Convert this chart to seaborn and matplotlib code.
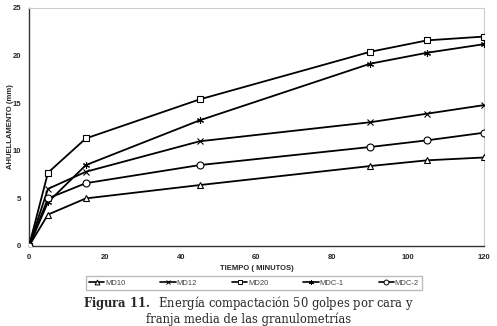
import pandas as pd
import matplotlib
matplotlib.use("Agg")
import matplotlib.pyplot as plt
import seaborn as sns

# tiempo (minutos)
tiempo = [0, 5, 15, 45, 90, 105, 120]
md10 = [0, 3.3, 5.0, 6.4, 8.4, 9.0, 9.3]
md12 = [0, 6.0, 7.8, 11.0, 13.0, 13.9, 14.8]
md20 = [0, 7.7, 11.3, 15.4, 20.4, 21.6, 22.0]
mdc1 = [0, 4.6, 8.5, 13.2, 19.15, 20.3, 21.2]
mdc2 = [0, 5.0, 6.6, 8.5, 10.4, 11.1, 11.9]
series = ["MD10", "MD12", "MD20", "MDC-1", "MDC-2"]
x_ticks = [0, 20, 40, 60, 80, 100, 120]
y_ticks = [0, 5, 10, 15, 20, 25]

df = pd.DataFrame({
    "tiempo": tiempo * 5,
    "ahuellamiento": md10 + md12 + md20 + mdc1 + mdc2,
    "serie": [s for s in series for _ in tiempo],
})

sns.set_theme(style="white")
plt.rcParams["font.family"] = ["Liberation Sans", "DejaVu Sans"]
plt.rcParams["mathtext.fontset"] = "dejavuserif"

fig = plt.figure(figsize=(4.97, 3.26), dpi=100)
ax = fig.add_axes([29 / 497, 80 / 326, 455 / 497, 238 / 326])

markers = {"MD10": "^", "MD12": "x", "MD20": "s", "MDC-1": (6, 2, 0), "MDC-2": "o"}
for s in series:
    sns.lineplot(data=df[df["serie"] == s], x="tiempo", y="ahuellamiento", ax=ax,
                 color="black", marker=markers[s], markersize=5,
                 markerfacecolor="white", markeredgecolor="black",
                 markeredgewidth=0.8, linewidth=1.3, zorder=3)

ax.set_xlim(0, 120)
ax.set_ylim(0, 25)
ax.set_xticks(x_ticks)
ax.set_yticks(y_ticks)
ax.tick_params(labelsize=5.5, length=1.5, pad=4)
for lbl in ax.get_xticklabels() + ax.get_yticklabels():
    lbl.set_fontweight("bold")
ax.set_xlabel("TIEMPO ( MINUTOS)", fontsize=5.5, fontweight="bold", labelpad=3)
ax.set_ylabel("AHUELLAMENTO (mm)", fontsize=5.5, fontweight="bold")
ax.yaxis.set_label_coords(-15 / 455, 0.5)
for side in ["left", "bottom"]:
    ax.spines[side].set_color("#333333")
    ax.spines[side].set_linewidth(1.0)
for side in ["top", "right"]:
    ax.spines[side].set_color("#cccccc")
    ax.spines[side].set_linewidth(0.8)

# legend
handles = [plt.Line2D([], [], color="black", marker=markers[s], markersize=3.5,
                      markerfacecolor="white", markeredgewidth=0.7, linewidth=1.2)
           for s in series]
fig.legend(handles, series, loc="center", bbox_to_anchor=(254 / 497, 1 - 283 / 326),
           ncol=5, fontsize=5.5, frameon=True, fancybox=False, edgecolor="#aaaaaa",
           handlelength=2.0, handletextpad=0.1, columnspacing=4.6,
           borderpad=0.45, labelcolor="#444444")

# caption
fig.text(0.5, 1 - 303 / 326, r"$\mathbf{Figura\ 11.}$  Energía compactación 50 golpes por cara y",
         ha="center", va="center", fontsize=8.3, family="DejaVu Serif")
fig.text(0.5, 1 - 319 / 326, "franja media de las granulometrías",
         ha="center", va="center", fontsize=8.3, family="DejaVu Serif")

fig.savefig("out.png", dpi=100)
